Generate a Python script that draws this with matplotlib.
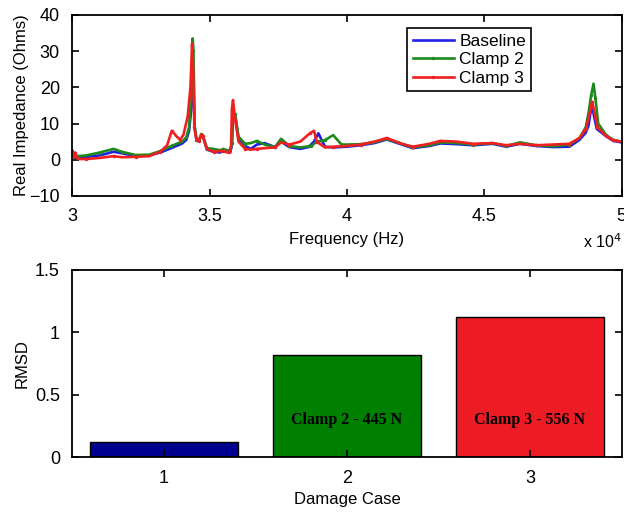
import matplotlib
matplotlib.use("Agg")
import matplotlib.pyplot as plt

plt.rcParams['font.family'] = ['Liberation Sans', 'DejaVu Sans']

# impedance spectra, frequency in Hz, real part in Ohms
base_f = [30000, 30100, 30200, 30500, 31000, 31500, 31800, 32300, 32800, 33200,
          33600, 34000, 34150, 34250, 34330, 34380, 34410, 34450, 34520, 34600,
          34700, 34750, 34900, 35140, 35380, 35500, 35630, 35750, 35810, 35850,
          35930, 36050, 36290, 36500, 36720, 37000, 37380, 37600, 37900, 38300,
          38600, 38800, 38960, 39200, 39500, 40000, 40500, 41000, 41450, 42000,
          42400, 43000, 43400, 44000, 44600, 45300, 45800, 46300, 46900, 47500,
          48100, 48470, 48700, 48800, 48870, 48930, 49000, 49100, 49440, 49700, 50000]
base_z = [2.0, 0.5, 0.8, 0.8, 1.2, 2.2, 1.8, 1.0, 1.2, 2.0,
          3.2, 4.5, 5.5, 8.0, 14.0, 24.0, 25.0, 9.0, 5.5, 5.0,
          6.8, 6.5, 2.8, 2.2, 2.0, 2.5, 2.2, 2.0, 4.0, 11.5,
          12.0, 6.0, 3.8, 3.0, 4.2, 4.6, 3.5, 5.0, 3.5, 3.0,
          3.5, 5.0, 7.3, 3.6, 3.4, 3.6, 4.0, 4.6, 5.6, 4.2,
          3.2, 3.8, 4.5, 4.3, 4.0, 4.4, 3.6, 4.4, 3.8, 3.5,
          3.6, 5.5, 7.5, 9.5, 13.0, 15.0, 12.0, 8.5, 6.5, 5.2, 4.8]

clamp2_f = [30000, 30100, 30200, 30500, 31000, 31500, 31800, 32300, 32800, 33200,
            33600, 34000, 34150, 34250, 34330, 34380, 34410, 34450, 34520, 34600,
            34700, 34750, 34900, 35140, 35380, 35500, 35630, 35750, 35810, 35850,
            35930, 36050, 36290, 36500, 36720, 37000, 37380, 37600, 37900, 38300,
            38700, 38900, 39200, 39500, 39800, 40000, 40500, 41000, 41450, 42000,
            42400, 43000, 43400, 44000, 44600, 45300, 45800, 46300, 46900, 47500,
            48100, 48470, 48700, 48800, 48900, 48980, 49050, 49150, 49440, 49700, 50000]
clamp2_z = [1.5, 0.8, 1.0, 1.2, 2.0, 3.0, 2.2, 1.3, 1.4, 2.4,
            3.8, 5.0, 6.2, 9.0, 18.0, 33.5, 30.0, 9.5, 5.5, 5.2,
            7.0, 6.8, 3.2, 3.0, 2.6, 3.0, 2.6, 2.4, 4.5, 12.8,
            12.5, 6.4, 4.4, 4.6, 5.2, 4.2, 3.5, 5.8, 3.8, 3.4,
            3.8, 5.0, 5.4, 6.8, 4.2, 4.2, 4.3, 4.8, 5.8, 4.4,
            3.4, 4.0, 4.8, 4.6, 4.2, 4.6, 3.8, 4.8, 4.0, 3.7,
            4.2, 6.0, 9.0, 13.0, 18.0, 21.0, 17.0, 10.0, 6.8, 5.5, 5.0]

clamp3_f = [30000, 30050, 30100, 30200, 30500, 31000, 31500, 31800, 32300, 32800,
            33200, 33450, 33620, 33800, 33930, 34050, 34200, 34300, 34360, 34400,
            34440, 34520, 34600, 34700, 34750, 34900, 35140, 35380, 35500, 35630,
            35720, 35780, 35810, 35850, 35930, 36050, 36290, 36500, 36720, 37000,
            37380, 37600, 37900, 38300, 38650, 38800, 38900, 39200, 39500, 40000,
            40500, 41000, 41450, 42000, 42400, 43000, 43400, 44000, 44600, 45300,
            45800, 46300, 46900, 47500, 48100, 48470, 48700, 48800, 48930, 49020,
            49120, 49440, 49700, 50000]
clamp3_z = [2.5, 0.5, 2.0, 0.2, 0.2, 0.5, 1.0, 0.7, 0.8, 1.0,
            2.2, 4.0, 8.0, 6.4, 5.5, 7.0, 12.0, 20.0, 32.0, 25.0,
            9.0, 5.5, 5.3, 7.0, 6.5, 3.0, 2.2, 2.4, 2.5, 2.0,
            2.2, 4.0, 14.0, 16.5, 11.0, 5.0, 3.0, 2.8, 3.0, 3.2,
            3.4, 4.8, 4.2, 5.0, 7.3, 8.0, 5.0, 3.4, 3.6, 3.8,
            4.2, 5.0, 6.0, 4.4, 3.6, 4.4, 5.2, 5.0, 4.4, 4.6,
            4.0, 4.4, 4.0, 4.2, 4.4, 6.0, 8.5, 11.5, 16.0, 13.0,
            9.0, 6.5, 5.4, 5.0]

series_labels = ['Baseline', 'Clamp 2', 'Clamp 3']
line_colors = ['#1f1fe6', '#1e8a1e', '#f02020']

# RMSD per damage case
cases = [1, 2, 3]
rmsd = [0.12, 0.82, 1.12]
bar_colors = ['#00008f', '#008000', '#ed1c24']
bar_notes = ['', 'Clamp 2 - 445 N', 'Clamp 3 - 556 N']

fig = plt.figure(figsize=(6.24, 5.13), dpi=100)
ax1 = fig.add_axes([0.116, 0.618, 0.880, 0.353])
ax2 = fig.add_axes([0.116, 0.109, 0.880, 0.365])


def matlab_box(ax):
    for s in ax.spines.values():
        s.set_linewidth(1.3)
    ax.tick_params(direction='in', top=True, right=True, length=5, width=1.2,
                   labelsize=13, pad=9)


ax1.plot(base_f, base_z, color=line_colors[0], lw=1.9, label=series_labels[0])
ax1.plot(clamp2_f, clamp2_z, color=line_colors[1], lw=1.9, marker='.', ms=3,
         markevery=2, label=series_labels[1])
ax1.plot(clamp3_f, clamp3_z, color=line_colors[2], lw=1.9, marker='.', ms=3,
         markevery=2, label=series_labels[2])
ax1.set_xlim(30000, 50000)
ax1.set_ylim(-10, 40)
ax1.set_xticks([30000, 35000, 40000, 45000, 50000])
ax1.set_xticklabels(['3', '3.5', '4', '4.5', '5'])
ax1.set_yticks([-10, 0, 10, 20, 30, 40])
matlab_box(ax1)
ax1.set_xlabel('Frequency (Hz)', fontsize=12, labelpad=5)
ax1.set_ylabel('Real Impedance (Ohms)', fontsize=12, labelpad=0)
ax1.text(1.0, -0.2, r'x 10$^4$', transform=ax1.transAxes, ha='right',
         va='top', fontsize=11.5)
leg = ax1.legend(loc='upper left', bbox_to_anchor=(0.61, 0.925), fontsize=12.5,
                 fancybox=False, framealpha=1, edgecolor='black',
                 borderpad=0.3, labelspacing=0.2, handlelength=2.4,
                 handletextpad=0.3, borderaxespad=0)
leg.get_frame().set_linewidth(1.2)

ax2.bar(cases, rmsd, width=0.81, color=bar_colors, edgecolor='black', lw=1)
for c, note in zip(cases, bar_notes):
    if note:
        ax2.text(c, 0.3, note, ha='center', va='center', fontsize=11.5,
                 fontweight='bold', family='Liberation Serif')
ax2.set_xlim(0.5, 3.5)
ax2.set_ylim(0, 1.5)
ax2.set_xticks(cases)
ax2.set_yticks([0, 0.5, 1, 1.5])
ax2.set_yticklabels(['0', '0.5', '1', '1.5'])
matlab_box(ax2)
ax2.set_xlabel('Damage Case', fontsize=12, labelpad=4)
ax2.set_ylabel('RMSD', fontsize=12, labelpad=4)

fig.savefig('out.png', dpi=100)
